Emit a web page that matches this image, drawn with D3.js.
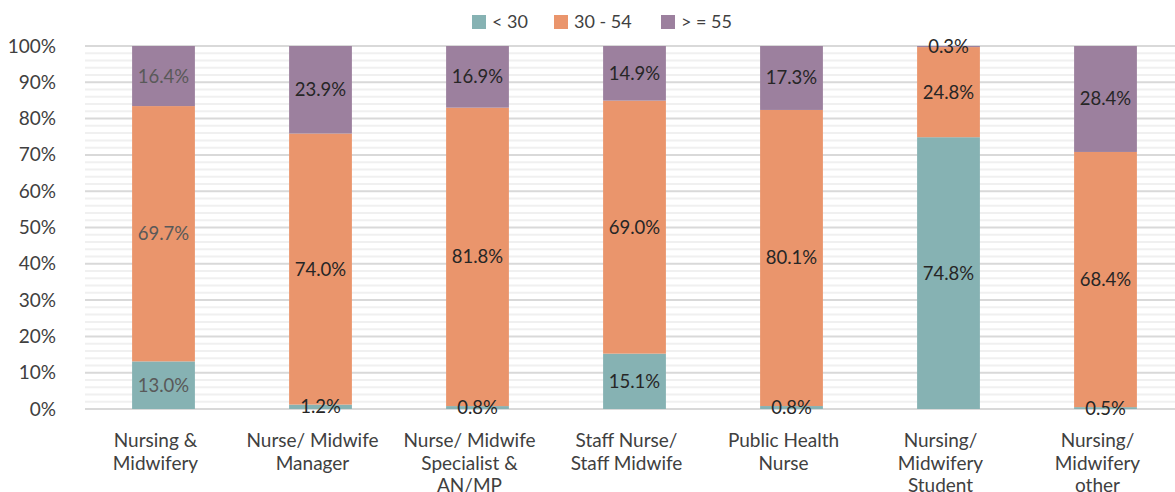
<!DOCTYPE html>
<html>
<head>
<meta charset="utf-8">
<script src="https://cdn.jsdelivr.net/npm/d3@7"></script>
<style>
body { margin: 0; background: #fff; }
text { font-family: Lato, "Open Sans", sans-serif; }
</style>
</head>
<body>
<svg id="chart"></svg>
<script>
var width = 1175;
var height = 492;

var categories = [
	["Nursing &", "Midwifery"],
	["Nurse/ Midwife", "Manager"],
	["Nurse/ Midwife", "Specialist &", "AN/MP"],
	["Staff Nurse/", "Staff Midwife"],
	["Public Health", "Nurse"],
	["Nursing/", "Midwifery", "Student"],
	["Nursing/", "Midwifery", "other"]
];
var seriesNames = ["< 30", "30 - 54", "> = 55"];
var under30 = [13.0, 1.2, 0.8, 15.1, 0.8, 74.8, 0.5];
var mid30to54 = [69.7, 74.0, 81.8, 69.0, 80.1, 24.8, 68.4];
var over55 = [16.4, 23.9, 16.9, 14.9, 17.3, 0.3, 28.4];
var yTicks = [0, 10, 20, 30, 40, 50, 60, 70, 80, 90, 100];

var colors = ['#86b2b3', '#ea956c', '#9c809e'];

var margin = {top: 46, left: 85, bottom: 83};
var plotRight = 1184;

var svg = d3.select('#chart')
		.attr('width', width)
		.attr('height', height);

// rows for the stack
var rows = categories.map(function(c, i){
	return {i: i, s0: under30[i], s1: mid30to54[i], s2: over55[i]};
});
var stack = d3.stack()
		.keys(['s0', 's1', 's2'])
		.offset(d3.stackOffsetExpand);
var layers = stack(rows);

var x = d3.scaleBand()
		.domain(d3.range(categories.length))
		.range([margin.left, plotRight])
		.paddingInner(0.6)
		.paddingOuter(0.3);

var y = d3.scaleLinear()
		.domain([0, 1])
		.range([height - margin.bottom, margin.top]);

// minor gridlines every 2%
var minor = d3.range(0, 100, 2).filter(function(v){ return v % 10 !== 0; });
svg.append('g').selectAll('line')
		.data(minor)
		.enter().append('line')
		.attr('x1', margin.left)
		.attr('x2', width)
		.attr('y1', function(d){ return y(d / 100); })
		.attr('y2', function(d){ return y(d / 100); })
		.style('stroke', '#f0f0f0')
		.style('stroke-width', 2);

// major gridlines
svg.append('g').selectAll('line')
		.data(yTicks)
		.enter().append('line')
		.attr('x1', margin.left)
		.attr('x2', width)
		.attr('y1', function(d){ return y(d / 100); })
		.attr('y2', function(d){ return y(d / 100); })
		.style('stroke', '#d9d9d9')
		.style('stroke-width', 2);

// y axis labels
var yAxis = d3.axisLeft(y)
		.tickValues(yTicks.map(function(d){ return d / 100; }))
		.tickFormat(d3.format('.0%'))
		.tickSize(0)
		.tickPadding(0);
var ya = svg.append('g')
		.attr('transform', 'translate(56,0)')
		.call(yAxis);
ya.select('.domain').remove();
ya.selectAll('text')
		.style('font-size', '19px')
		.style('fill', '#404040')
		.style('font-family', 'Lato, sans-serif');

// bars
var groups = svg.selectAll('g.layer')
		.data(layers)
		.enter().append('g')
		.attr('class', 'layer')
		.style('fill', function(d, i){ return colors[i]; });

groups.selectAll('rect')
		.data(function(d){ return d; })
		.enter().append('rect')
		.attr('x', function(d){ return x(d.data.i); })
		.attr('width', x.bandwidth())
		.attr('y', function(d){ return y(d[1]); })
		.attr('height', function(d){ return y(d[0]) - y(d[1]); });

// value labels
var raw = [under30, mid30to54, over55];
layers.forEach(function(layer, k){
	svg.append('g').selectAll('text')
		.data(layer)
		.enter().append('text')
		.attr('x', function(d){ return x(d.data.i) + x.bandwidth() / 2; })
		.attr('y', function(d){ return y((d[0] + d[1]) / 2); })
		.attr('dy', '0.35em')
		.attr('text-anchor', 'middle')
		.style('font-size', '18.5px')
		.style('fill', function(d){ return d.data.i === 0 ? '#595959' : '#262626'; })
		.text(function(d){ return raw[k][d.data.i].toFixed(1) + '%'; });
});

// category labels (sit a bit left of the bar centres, as in the original)
var cat = svg.append('g').selectAll('text')
		.data(categories)
		.enter().append('text')
		.attr('x', function(d, i){ return x(i) + x.bandwidth() / 2 - 8; })
		.attr('y', 447)
		.attr('text-anchor', 'middle')
		.style('font-size', '19px')
		.style('fill', '#404040');
cat.selectAll('tspan')
		.data(function(d){ return d; })
		.enter().append('tspan')
		.attr('x', function(){ return d3.select(this.parentNode).attr('x'); })
		.attr('dy', function(d, j){ return j === 0 ? 0 : 22.5; })
		.text(function(d){ return d; });

// legend
var legendX = [472, 554, 661];
var legend = svg.append('g').selectAll('g')
		.data(seriesNames)
		.enter().append('g')
		.attr('transform', function(d, i){ return 'translate(' + legendX[i] + ',15)'; });
legend.append('rect')
		.attr('width', 14)
		.attr('height', 14)
		.style('fill', function(d, i){ return colors[i]; });
legend.append('text')
		.attr('x', 20)
		.attr('y', 7)
		.attr('dy', '0.35em')
		.style('font-size', '18px')
		.style('fill', '#404040')
		.text(function(d){ return d; });
</script>
</body>
</html>
